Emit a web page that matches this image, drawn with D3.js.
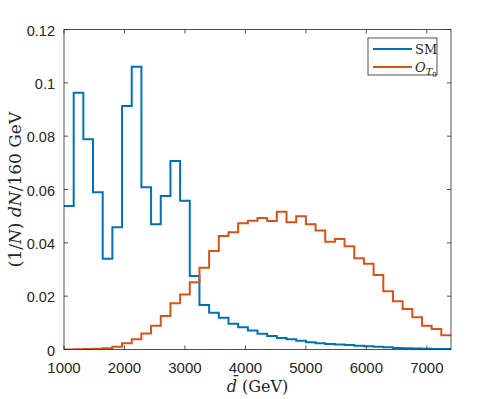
<!DOCTYPE html>
<html lang="en">
<head>
<meta charset="UTF-8">
<title>dN distribution</title>
<script src="https://cdnjs.cloudflare.com/ajax/libs/d3/7.8.5/d3.min.js"></script>
<style>
  body { margin: 0; background: #fff; }
  svg text { fill: #262626; }
</style>
</head>
<body>
<div id="chart"></div>
<script>
// bin lower edges (GeV), 160 GeV bins from 1000 to 7400
var binStart = d3.range(1000, 7400, 160);

// SM histogram (normalised)
var smValues = [
  0.0538, 0.0963, 0.0788, 0.0590, 0.0340, 0.0458, 0.0913, 0.1060,
  0.0608, 0.0470, 0.0576, 0.0707, 0.0558, 0.0276, 0.0167, 0.0138,
  0.0119, 0.0097, 0.0083, 0.0071, 0.0059, 0.0051, 0.0043, 0.0038,
  0.0033, 0.0027, 0.0023, 0.0021, 0.0019, 0.0017, 0.0014, 0.0012,
  0.0010, 0.0008, 0.0006, 0.0005, 0.0004, 0.0003, 0.0002, 0.0002
];

// O_T0 histogram (normalised)
var otValues = [
  0.0000, 0.0001, 0.0002, 0.0003, 0.0005, 0.0010, 0.0023, 0.0038,
  0.0060, 0.0089, 0.0126, 0.0173, 0.0206, 0.0252, 0.0307, 0.0369,
  0.0426, 0.0440, 0.0473, 0.0483, 0.0493, 0.0482, 0.0517, 0.0477,
  0.0500, 0.0470, 0.0446, 0.0404, 0.0414, 0.0387, 0.0342, 0.0322,
  0.0279, 0.0218, 0.0181, 0.0152, 0.0121, 0.0089, 0.0077, 0.0053
];

var xTicks = [1000, 2000, 3000, 4000, 5000, 6000, 7000];
var yTicks = [0, 0.02, 0.04, 0.06, 0.08, 0.1, 0.12];
var yTickLabels = ["0", "0.02", "0.04", "0.06", "0.08", "0.1", "0.12"];

var width = 498, height = 399;
var margin = { left: 64, right: 47, top: 29.5, bottom: 49.5 };

var blue = "#0072BD", orange = "#D95319", axisColor = "#262626";

var svg = d3.select("#chart").append("svg")
  .attr("width", width)
  .attr("height", height);

var x = d3.scaleLinear().domain([1000, 7400]).range([margin.left, width - margin.right]);
var y = d3.scaleLinear().domain([0, 0.12]).range([height - margin.bottom, margin.top]);

// stairs, extend last bin to the right edge
function stairs(vals) {
  var pts = vals.map(function(v, i) { return [binStart[i], v]; });
  pts.push([binStart[binStart.length - 1] + 160, vals[vals.length - 1]]);
  return pts;
}

var line = d3.line()
  .x(function(d) { return x(d[0]); })
  .y(function(d) { return y(d[1]); })
  .curve(d3.curveStepAfter);

svg.append("defs").append("clipPath").attr("id", "clip")
  .append("rect")
  .attr("x", x(1000)).attr("y", y(0.12))
  .attr("width", x(7400) - x(1000)).attr("height", y(0) - y(0.12));

var g = svg.append("g").attr("clip-path", "url(#clip)");

g.append("path")
  .attr("d", line(stairs(smValues)))
  .attr("fill", "none")
  .attr("stroke", blue)
  .attr("stroke-width", 2);

g.append("path")
  .attr("d", line(stairs(otValues)))
  .attr("fill", "none")
  .attr("stroke", orange)
  .attr("stroke-width", 2);

// axes box
var x0 = x(1000), x1 = x(7400), y0 = y(0), y1 = y(0.12);

svg.append("rect")
  .attr("x", x0).attr("y", y1)
  .attr("width", x1 - x0).attr("height", y0 - y1)
  .attr("fill", "none")
  .attr("stroke", axisColor)
  .attr("stroke-width", 0.8);

var tickLen = 4;

// x ticks bottom + top
xTicks.forEach(function(t) {
  svg.append("line").attr("x1", x(t)).attr("x2", x(t))
    .attr("y1", y0).attr("y2", y0 - tickLen)
    .attr("stroke", axisColor).attr("stroke-width", 0.8);
  svg.append("line").attr("x1", x(t)).attr("x2", x(t))
    .attr("y1", y1).attr("y2", y1 + tickLen)
    .attr("stroke", axisColor).attr("stroke-width", 0.8);
  svg.append("text")
    .attr("x", x(t)).attr("y", y0 + 23)
    .attr("text-anchor", "middle")
    .style("font-family", "'Liberation Sans', Arial, sans-serif")
    .style("font-size", "15px")
    .text(t);
});

// y ticks left + right
yTicks.forEach(function(t, i) {
  svg.append("line").attr("x1", x0).attr("x2", x0 + tickLen)
    .attr("y1", y(t)).attr("y2", y(t))
    .attr("stroke", axisColor).attr("stroke-width", 0.8);
  svg.append("line").attr("x1", x1).attr("x2", x1 - tickLen)
    .attr("y1", y(t)).attr("y2", y(t))
    .attr("stroke", axisColor).attr("stroke-width", 0.8);
  svg.append("text")
    .attr("x", x0 - 9).attr("y", y(t) + 6)
    .attr("text-anchor", "end")
    .style("font-family", "'Liberation Sans', Arial, sans-serif")
    .style("font-size", "14.5px")
    .text(yTickLabels[i]);
});

var serif = "'DejaVu Serif', 'Liberation Serif', serif";

// y label
var yl = svg.append("text")
  .attr("transform", "translate(21," + ((y0 + y1) / 2) + ") rotate(-90)")
  .attr("text-anchor", "middle")
  .style("font-family", serif)
  .style("font-size", "17px");
yl.append("tspan").text("(1/");
yl.append("tspan").style("font-style", "italic").text("N");
yl.append("tspan").text(") ");
yl.append("tspan").style("font-style", "italic").text("dN");
yl.append("tspan").text("/160 GeV");

// x label
var xl = svg.append("text")
  .attr("x", (x0 + x1) / 2).attr("y", y0 + 42)
  .attr("text-anchor", "middle")
  .style("font-family", serif)
  .style("font-size", "16px");
xl.append("tspan").style("font-style", "italic").text("d\u0304");
xl.append("tspan").text(" (GeV)");

// legend
var lg = svg.append("g").attr("transform", "translate(368,38)");
lg.append("rect")
  .attr("width", 69).attr("height", 37)
  .attr("fill", "#fff")
  .attr("stroke", axisColor)
  .attr("stroke-width", 0.8);

var legendItems = [
  { color: blue, label: "SM" },
  { color: orange, label: "OT0" }
];

legendItems.forEach(function(it, i) {
  var ly = 11 + i * 18;
  lg.append("line")
    .attr("x1", 5).attr("x2", 44)
    .attr("y1", ly).attr("y2", ly)
    .attr("stroke", it.color).attr("stroke-width", 2);
  var t = lg.append("text")
    .attr("x", 47).attr("y", ly + 5)
    .style("font-family", serif)
    .style("font-size", "13px");
  if (i === 0) {
    t.text("SM");
  } else {
    t.append("tspan").style("font-style", "italic").text("O");
    t.append("tspan").attr("dy", 3).style("font-size", "10px").style("font-style", "italic").text("T");
    t.append("tspan").attr("dy", 2).style("font-size", "7px").text("0");
  }
});
</script>
</body>
</html>
